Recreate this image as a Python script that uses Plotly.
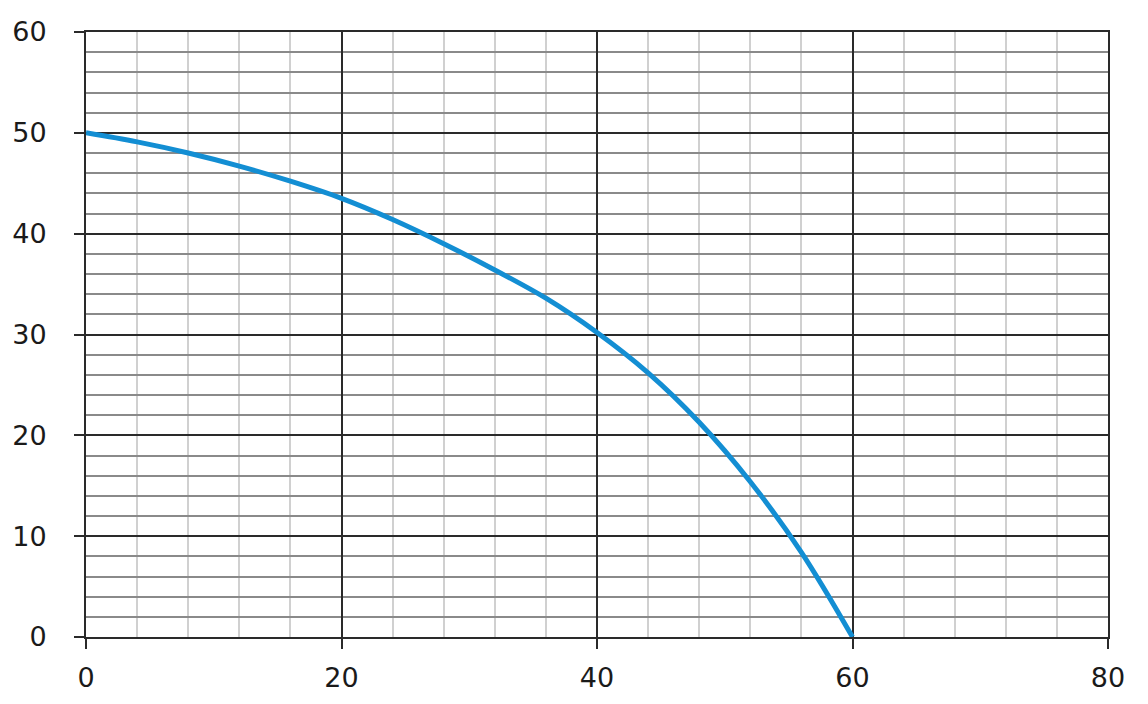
import plotly.graph_objects as go

# Curve values
flow = [0, 4, 8, 12, 16, 20, 24, 28, 32, 36, 40, 44, 48, 52, 56, 60]
head = [50, 49.1, 48, 46.7, 45.2, 43.5, 41.4, 39.0, 36.4, 33.6, 30.2, 26.2, 21.3, 15.4, 8.4, 0]

x_ticks = [0, 20, 40, 60, 80]
y_ticks = [0, 10, 20, 30, 40, 50, 60]

fig = go.Figure()
fig.add_trace(go.Scatter(
    x=flow, y=head, mode="lines",
    line=dict(color="#138ed3", width=5, shape="spline", smoothing=1.0),
    showlegend=False, hoverinfo="skip",
))

font = dict(family="DejaVu Sans", size=27, color="#1a1a1a")

fig.update_xaxes(
    range=[0, 80], tickmode="array", tickvals=x_ticks,
    ticktext=[str(v) for v in x_ticks],
    showgrid=True, gridcolor="#2a2a2a", gridwidth=1.5,
    minor=dict(dtick=4, tick0=0, showgrid=True, gridcolor="#d0d0d0", gridwidth=1.5, ticks=""),
    showline=True, linecolor="#2a2a2a", linewidth=2, mirror=True,
    ticks="outside", ticklen=10, tickwidth=2, tickcolor="#2a2a2a",
    tickfont=font, zeroline=False, fixedrange=True, automargin=False,
    ticklabelstandoff=6,
)
fig.update_yaxes(
    range=[0, 60], tickmode="array", tickvals=y_ticks,
    ticktext=[str(v) for v in y_ticks],
    showgrid=True, gridcolor="#2a2a2a", gridwidth=1.5,
    minor=dict(dtick=2, tick0=0, showgrid=True, gridcolor="#8a8a8a", gridwidth=1.5, ticks=""),
    showline=True, linecolor="#2a2a2a", linewidth=2, mirror=True,
    ticks="outside", ticklen=10, tickwidth=2, tickcolor="#2a2a2a",
    tickfont=font, zeroline=False, fixedrange=True, automargin=False,
    ticklabelstandoff=22,
)

fig.update_layout(
    width=1140, height=696,
    margin=dict(l=78, r=40, t=24, b=67),
    paper_bgcolor="white", plot_bgcolor="white",
)

fig.write_html("out.html")
